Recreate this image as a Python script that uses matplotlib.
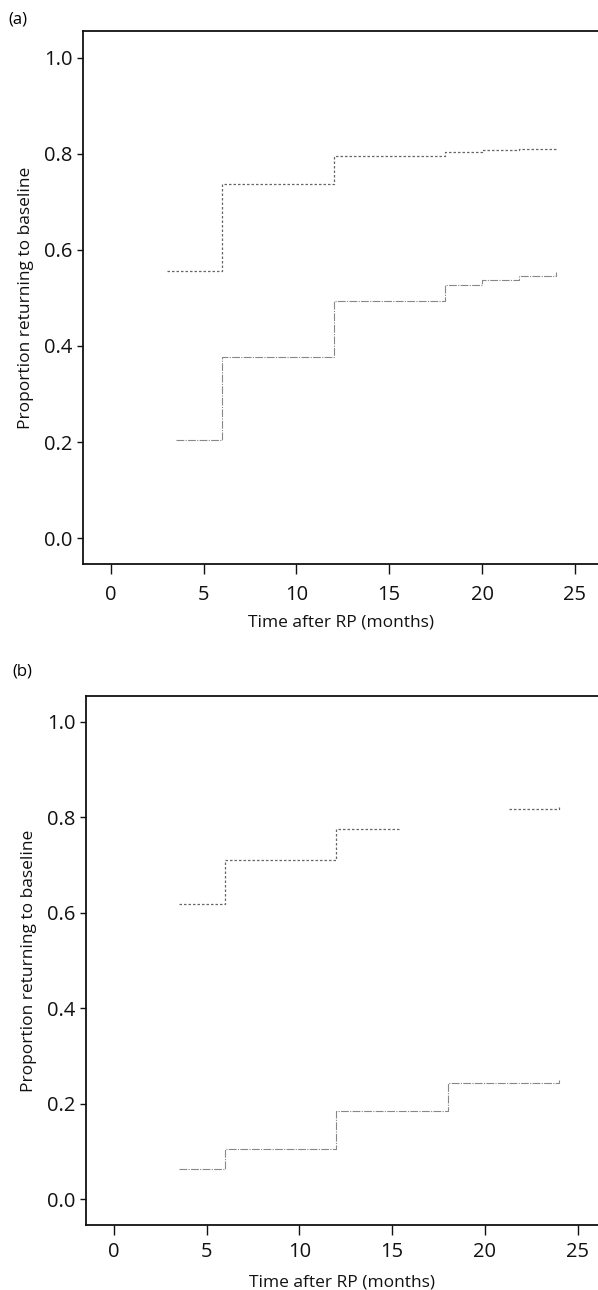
import numpy as np
import matplotlib
matplotlib.use("Agg")
import matplotlib.pyplot as plt

plt.rcParams['font.family'] = ['Open Sans', 'DejaVu Sans']

# Panel (a)
a_upper_t = [3.0, 6.0, 12.0, 18.0, 20.0, 22.0, 24.0]
a_upper_p = [0.556, 0.738, 0.796, 0.804, 0.808, 0.811, 0.813]
a_lower_t = [3.5, 6.0, 12.0, 18.0, 20.0, 22.0, 24.0]
a_lower_p = [0.204, 0.377, 0.494, 0.527, 0.537, 0.546, 0.555]

# Panel (b)
b_upper_t = [3.5, 6.0, 12.0, 15.5, 21.3, 24.0]
b_upper_p = [0.618, 0.711, 0.775, np.nan, 0.818, 0.822]
b_lower_t = [3.5, 6.0, 12.0, 18.0, 24.0]
b_lower_p = [0.063, 0.105, 0.184, 0.243, 0.249]

xticks = [0, 5, 10, 15, 20, 25]
yticks = [0.0, 0.2, 0.4, 0.6, 0.8, 1.0]
panel_labels = ['(a)', '(b)']
xlabel = 'Time after RP (months)'
ylabel = 'Proportion returning to baseline'

W, H = 598, 1290
fig = plt.figure(figsize=(W / 100, H / 100), dpi=100)

def rect(l, t, r, b):
    return [l / W, 1 - b / H, (r - l) / W, (b - t) / H]

ax_a = fig.add_axes(rect(83, 31, 598, 564))
ax_b = fig.add_axes(rect(86, 696, 598, 1225))

panels = [
    (ax_a, a_upper_t, a_upper_p, a_lower_t, a_lower_p, (-1.5, 26.25), (-0.054, 1.056), 8, 7),
    (ax_b, b_upper_t, b_upper_p, b_lower_t, b_lower_p, (-1.5, 26.1), (-0.0545, 1.0545), 5, 9),
]

for ax, ut, up, lt, lp, xl, yl, xpad, lpad in panels:
    ax.plot(ut, up, drawstyle='steps-post', color='#666666', lw=0.9,
            linestyle=(0, (2.0, 1.6)))
    ax.plot(lt, lp, drawstyle='steps-post', color='#888888', lw=0.8,
            linestyle=(0, (7, 1.2, 1, 1.2)))
    ax.set_xlim(*xl)
    ax.set_ylim(*yl)
    ax.set_xticks(xticks)
    ax.set_yticks(yticks)
    ax.set_yticklabels([f'{v:.1f}' for v in yticks])
    ax.spines['right'].set_visible(False)
    for s in ['left', 'top', 'bottom']:
        ax.spines[s].set_linewidth(1.3)
        ax.spines[s].set_color('#111111')
    ax.tick_params(axis='both', direction='out', width=1.0,
                   labelsize=14.5, colors='#111111')
    ax.tick_params(axis='x', length=7, pad=xpad)
    ax.tick_params(axis='y', length=4.5, pad=3)
    ax.set_xlabel(xlabel, fontsize=12.5, labelpad=lpad, color='#111111')
    ax.set_ylabel(ylabel, fontsize=12.5, labelpad=7, color='#111111')

fig.text(8 / W, 1 - 19 / H, panel_labels[0], fontsize=12, va='center', ha='left')
fig.text(12 / W, 1 - 672 / H, panel_labels[1], fontsize=12, va='center', ha='left')

fig.savefig('out.png', dpi=100)
